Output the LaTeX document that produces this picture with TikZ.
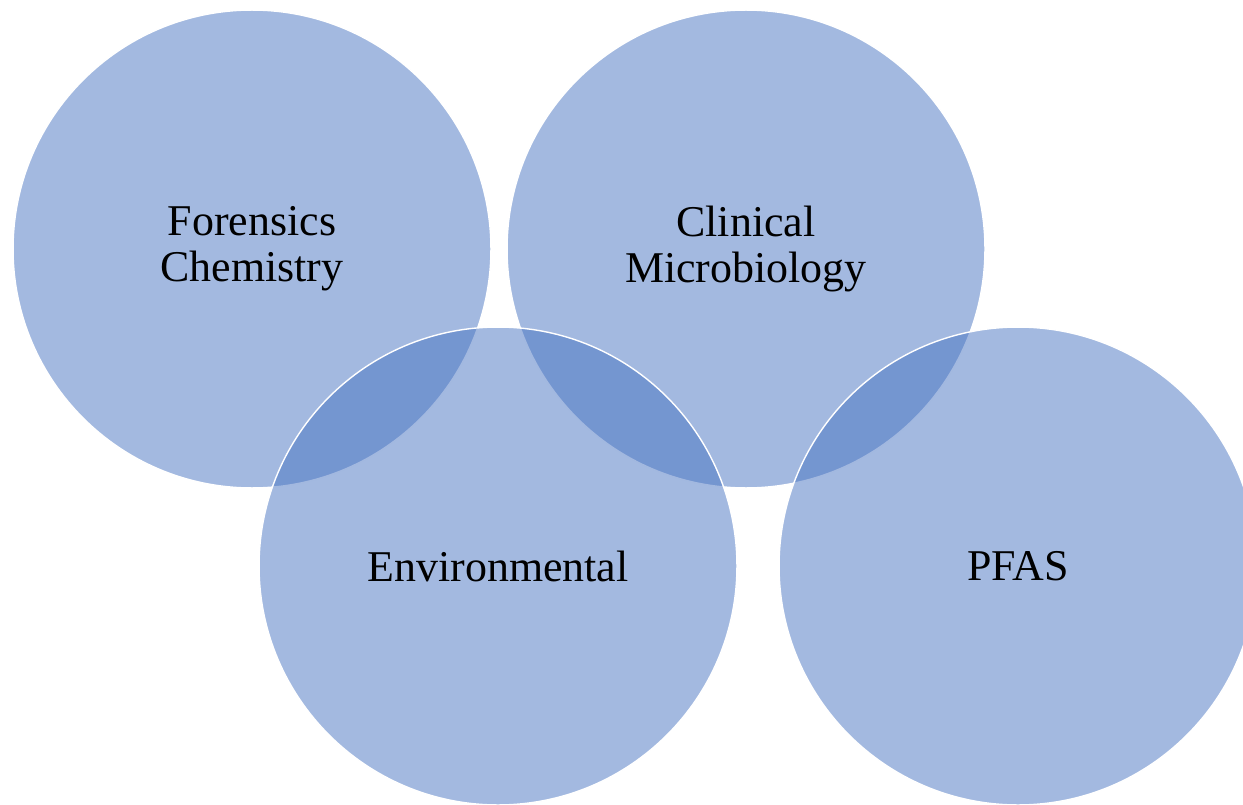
\documentclass[tikz,border=0pt]{standalone}
\usepackage{fontspec}
\setmainfont{Liberation Serif}
\usepackage{tikz}

\definecolor{areablue}{RGB}{71,115,193}

\begin{document}
\begin{tikzpicture}[x=0.02cm, y=-0.02cm,
	area/.style={circle, fill=areablue, fill opacity=0.5, text opacity=1, draw=white, line width=0.8pt, minimum size=9.56cm, inner sep=0pt, align=center, font=\fontsize{25}{26}\selectfont}]
	\useasboundingbox (0,0) rectangle (1243,804);
	% upper row
	\node[area] (forensics) at (252,249) {Forensics\\Chemistry};
	\node[area] (clinical) at (746,249) {Clinical\\Microbiology};
	% lower row
	\node[area] (environ) at (498,566) {Environmental};
	\node[area] (pfas) at (1018,566) {PFAS};
\end{tikzpicture}
\end{document}
